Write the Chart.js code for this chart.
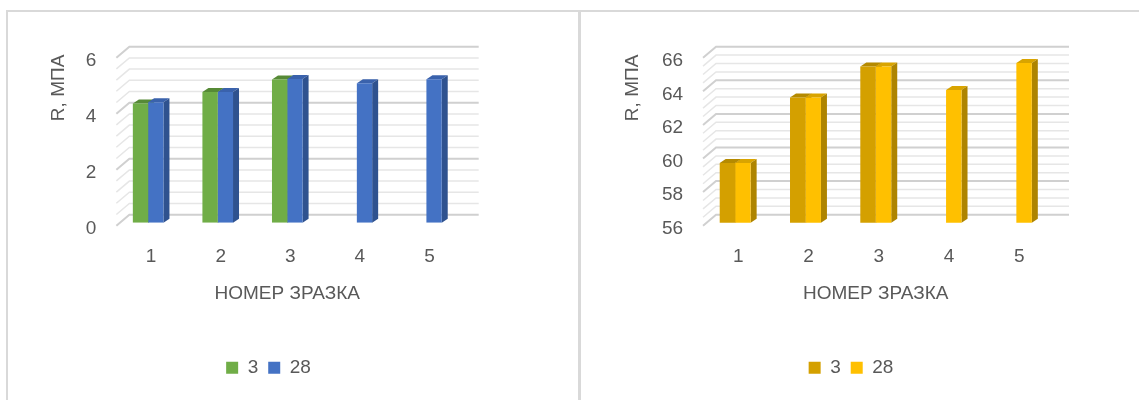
<!DOCTYPE html>
<html>
<head>
<meta charset="utf-8">
<title>R, МПА</title>
<script src="https://cdn.jsdelivr.net/npm/chart.js@4.4.1/dist/chart.umd.min.js"></script>
<style>
  body { margin: 0; background: #fff; width: 1139px; height: 400px; overflow: hidden; position: relative; }
  .panel { position: absolute; top: 10px; height: 400px; border: 2px solid #d9d9d9; border-bottom: none; box-sizing: border-box; }
  #panelLeft { left: 6px; width: 575px; }
  #panelRight { left: 578px; width: 600px; }
  canvas { position: absolute; top: 12px; }
  #chartLeft { left: 8px; }
  #chartRight { left: 580px; }
</style>
</head>
<body>
<div class="panel" id="panelLeft"></div>
<div class="panel" id="panelRight"></div>
<canvas id="chartLeft" width="531" height="388"></canvas>
<canvas id="chartRight" width="542" height="388"></canvas>
<script>
const categories = ['1', '2', '3', '4', '5'];
const seriesLabels = ['3', '28'];

// left chart, R in МПА
const leftDay3 = [4.26, 4.67, 5.11, null, null];
const leftDay28 = [4.30, 4.67, 5.13, 4.98, 5.12];
const leftRange = [0, 6];

// right chart, R in МПА
const rightDay3 = [59.55, 63.45, 65.3, null, null];
const rightDay28 = [59.55, 63.45, 65.3, 63.9, 65.5];
const rightRange = [56, 66];

const tickStep = 2;

Chart.defaults.font.family = "'Liberation Sans', Arial, sans-serif";
Chart.defaults.font.size = 19;
Chart.defaults.color = '#595959';

const axisFont = {size: 19, lineHeight: 1};

// fake 3d: back wall lines + top and side faces of every column
const boxes3d = {
    id: 'boxes3d',
    beforeDatasetsDraw(chart, args, opts) {
        const {ctx, chartArea} = chart;
        const y = chart.scales.y;
        ctx.save();
        const n = Math.round((y.max - y.min) / opts.minorStep);
        for (let i = 0; i <= n; i++) {
            const v = y.min + i * opts.minorStep;
            const py = y.getPixelForValue(v);
            const k = v / opts.majorStep;
            const major = Math.abs(k - Math.round(k)) < 1e-6;
            ctx.strokeStyle = major ? '#d0d0d0' : '#e6e6e6';
            ctx.lineWidth = major ? 2 : 1.5;
            ctx.beginPath();
            ctx.moveTo(chartArea.left + 3, py + 3);
            ctx.lineTo(chartArea.left + opts.wallLeft, py - opts.wallDepth);
            ctx.lineTo(chartArea.right + opts.wallRight, py - opts.wallDepth);
            ctx.stroke();
        }
        chart.data.datasets.forEach((ds, i) => {
            const meta = chart.getDatasetMeta(i);
            meta.data.forEach((bar, j) => {
                if (ds.data[j] == null) return;
                const p = bar.getProps(['x', 'y', 'base', 'width'], true);
                const l = p.x - p.width / 2;
                const r = p.x + p.width / 2;
                const base = Math.min(p.base, chartArea.bottom);
                ctx.fillStyle = ds.topColor;
                ctx.beginPath();
                ctx.moveTo(l, p.y);
                ctx.lineTo(l + opts.barDx, p.y - opts.barDy);
                ctx.lineTo(r + opts.barDx, p.y - opts.barDy);
                ctx.lineTo(r, p.y);
                ctx.closePath();
                ctx.fill();
                ctx.fillStyle = ds.sideColor;
                ctx.beginPath();
                ctx.moveTo(r, p.y);
                ctx.lineTo(r + opts.barDx, p.y - opts.barDy);
                ctx.lineTo(r + opts.barDx, base - opts.barDy);
                ctx.lineTo(r, base);
                ctx.closePath();
                ctx.fill();
            });
        });
        ctx.restore();
    }
};

function makeChart(canvasId, data3, data28, range, minorStep, colors, pad) {
    return new Chart(document.getElementById(canvasId), {
        type: 'bar',
        data: {
            labels: categories,
            datasets: [{
                label: seriesLabels[0],
                data: data3,
                backgroundColor: colors[0],
                topColor: colors[1],
                sideColor: colors[2],
                borderWidth: 0
            }, {
                label: seriesLabels[1],
                data: data28,
                backgroundColor: colors[3],
                topColor: colors[4],
                sideColor: colors[5],
                borderWidth: 0
            }]
        },
        options: {
            responsive: false,
            animation: false,
            layout: {padding: {left: pad.left, right: pad.right, top: 42.7, bottom: 12.8}},
            categoryPercentage: 0.44,
            barPercentage: 1,
            scales: {
                x: {
                    grid: {display: false, drawTicks: false},
                    border: {display: false},
                    ticks: {padding: 24.5, labelOffset: 3, font: axisFont},
                    title: {display: true, text: 'НОМЕР ЗРАЗКА', font: axisFont, padding: {top: -6.2, bottom: 44.7}}
                },
                y: {
                    min: range[0],
                    max: range[1],
                    grid: {display: false, drawTicks: false},
                    border: {display: false},
                    ticks: {stepSize: tickStep, padding: 17, labelOffset: 6, font: axisFont},
                    title: {display: true, text: 'R, МПА', align: 'end', font: axisFont, padding: {top: 4, bottom: pad.title}}
                },
                // empty strip on the right so the legend sits a bit right of the axis
                spacer: {
                    position: 'right',
                    grid: {display: false, drawTicks: false},
                    border: {display: false},
                    ticks: {display: false},
                    afterFit(scale) { scale.width = 31; }
                }
            },
            plugins: {
                legend: {
                    position: 'bottom',
                    labels: {boxWidth: 12, boxHeight: 12, padding: 10}
                },
                tooltip: {enabled: false},
                boxes3d: {minorStep: minorStep, majorStep: tickStep, wallLeft: 16, wallRight: 17.5, wallDepth: 8, barDx: 6, barDy: 4}
            }
        },
        plugins: [boxes3d]
    });
}

makeChart('chartLeft', leftDay3, leftDay28, leftRange, 0.4,
    ['#70ad47', '#568a36', '#4b7a2f', '#4472c4', '#3a62ac', '#2f528f'],
    {left: 36.8, right: 46.8, title: 1});
makeChart('chartRight', rightDay3, rightDay28, rightRange, 0.5,
    ['#d4a000', '#b58a00', '#a07a00', '#ffc000', '#d9a400', '#ae8400'],
    {left: 39.5, right: 39.5, title: 2.4});
</script>
</body>
</html>
